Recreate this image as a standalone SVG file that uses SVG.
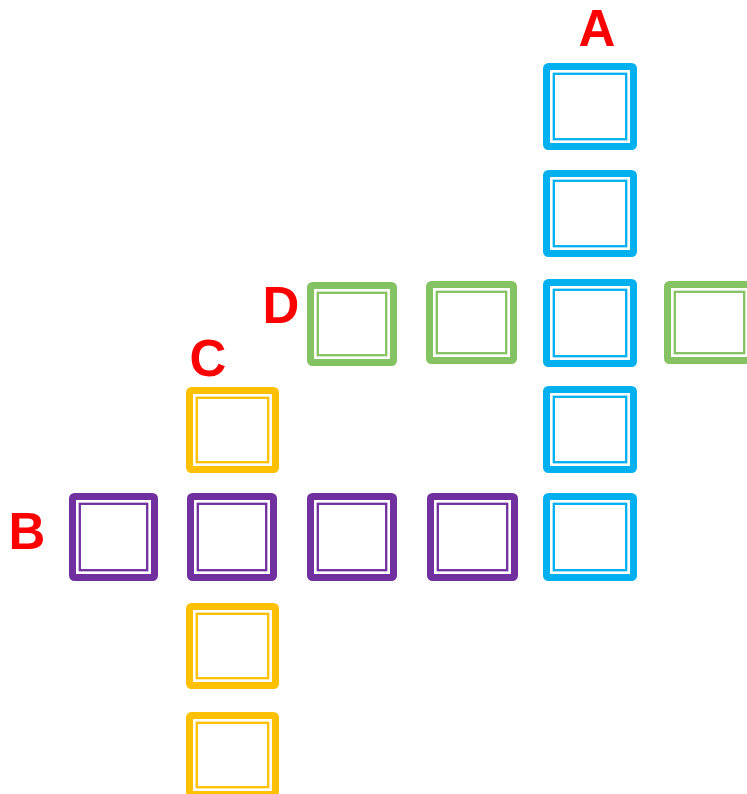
<svg xmlns="http://www.w3.org/2000/svg" width="747" height="794" viewBox="0 0 747 794">
<style>
.o{fill:#fff;stroke-width:7}
.i{fill:none;stroke-width:2.3}
.blue{stroke:#00B0F0}
.green{stroke:#85C262}
.purple{stroke:#7030A0}
.yellow{stroke:#FFC000}
.lbl{font-family:"Liberation Sans",Arial,sans-serif;font-weight:bold;font-size:51px;fill:#FF0000;text-anchor:middle}
</style>
<rect width="747" height="794" fill="#fff"/>
<g id="labels">
<text class="lbl" x="597" y="46">A</text>
<text class="lbl" x="27" y="549">B</text>
<text class="lbl" x="208" y="376">C</text>
<text class="lbl" x="281" y="323">D</text>
</g>
<g id="a1" class="blue"><rect class="o" x="546.5" y="66.5" width="87" height="80" rx="2"/><rect class="i" x="553.8" y="73.8" width="72.4" height="65.4"/></g>
<g id="a2" class="blue"><rect class="o" x="546.5" y="173.5" width="87" height="80" rx="2"/><rect class="i" x="553.8" y="180.8" width="72.4" height="65.4"/></g>
<g id="a3" class="blue"><rect class="o" x="546.5" y="282.5" width="87" height="81" rx="2"/><rect class="i" x="553.8" y="289.8" width="72.4" height="66.4"/></g>
<g id="a4" class="blue"><rect class="o" x="546.5" y="389.5" width="87" height="80" rx="2"/><rect class="i" x="553.8" y="396.8" width="72.4" height="65.4"/></g>
<g id="a5" class="blue"><rect class="o" x="546.5" y="496.5" width="87" height="81" rx="2"/><rect class="i" x="553.8" y="503.8" width="72.4" height="66.4"/></g>
<g id="d1" class="green"><rect class="o" x="310.5" y="285.5" width="83" height="77" rx="2"/><rect class="i" x="317.8" y="292.8" width="68.4" height="62.4"/></g>
<g id="d2" class="green"><rect class="o" x="429.5" y="284.5" width="84" height="76" rx="2"/><rect class="i" x="436.8" y="291.8" width="69.4" height="61.4"/></g>
<g id="d3" class="green"><rect class="o" x="667.5" y="284.5" width="84" height="76" rx="2"/><rect class="i" x="674.8" y="291.8" width="69.4" height="61.4"/></g>
<g id="b1" class="purple"><rect class="o" x="72.5" y="496.5" width="82" height="81" rx="2"/><rect class="i" x="79.8" y="503.8" width="67.4" height="66.4"/></g>
<g id="b2" class="purple"><rect class="o" x="190.5" y="496.5" width="83" height="81" rx="2"/><rect class="i" x="197.8" y="503.8" width="68.4" height="66.4"/></g>
<g id="b3" class="purple"><rect class="o" x="310.5" y="496.5" width="83" height="81" rx="2"/><rect class="i" x="317.8" y="503.8" width="68.4" height="66.4"/></g>
<g id="b4" class="purple"><rect class="o" x="430.5" y="496.5" width="84" height="81" rx="2"/><rect class="i" x="437.8" y="503.8" width="69.4" height="66.4"/></g>
<g id="c1" class="yellow"><rect class="o" x="189.5" y="390.5" width="86" height="79" rx="2"/><rect class="i" x="196.8" y="397.8" width="71.4" height="64.4"/></g>
<g id="c2" class="yellow"><rect class="o" x="189.5" y="606.5" width="86" height="79" rx="2"/><rect class="i" x="196.8" y="613.8" width="71.4" height="64.4"/></g>
<g id="c3" class="yellow"><rect class="o" x="189.5" y="715.5" width="86" height="79" rx="2"/><rect class="i" x="196.8" y="722.8" width="71.4" height="64.4"/></g>
<g id="connectors"></g>
</svg>
